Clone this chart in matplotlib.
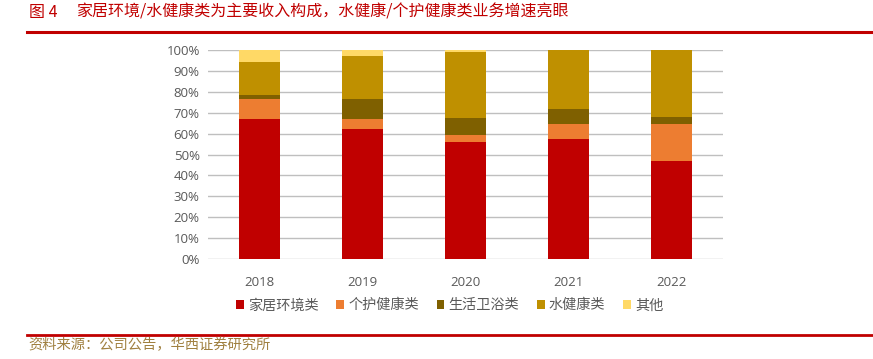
import numpy as np
import matplotlib.pyplot as plt
from matplotlib.patches import Patch

plt.rcParams['font.family'] = ['Open Sans', 'Noto Sans CJK SC', 'DejaVu Sans']

# dane (udzial w przychodach, %)
years = ['2018', '2019', '2020', '2021', '2022']
categories = ['家居环境类', '个护健康类', '生活卫浴类', '水健康类', '其他']
home_env = [66.8, 62.1, 55.9, 57.6, 46.9]
personal_care = [9.6, 5.0, 3.3, 7.2, 17.5]
bath = [2.3, 9.5, 8.4, 6.8, 3.5]
water = [15.4, 20.7, 31.4, 28.2, 31.9]
other = [5.9, 2.7, 1.0, 0.2, 0.2]
colors = ['#C00000', '#ED7D31', '#7F6000', '#BF9000', '#FFD966']

title_num = '图 4'
title = '家居环境/水健康类为主要收入构成，水健康/个护健康类业务增速亮眼'
source = '资料来源：公司公告，华西证券研究所'

fig = plt.figure(figsize=(8.73, 3.59), dpi=100)
ax = fig.add_axes([0.2383, 0.2786, 0.590, 0.582])

series = [home_env, personal_care, bath, water, other]
x = np.arange(len(years))
bottom = np.zeros(len(years))
for vals, c in zip(series, colors):
    v = np.array(vals) / 100
    ax.bar(x, v, width=0.4, bottom=bottom, color=c, zorder=3)
    bottom += v

ax.set_xlim(-0.5, len(years) - 0.5)
ax.set_ylim(0, 1)
ax.set_yticks(np.arange(0, 1.01, 0.1))
ax.set_yticklabels([f'{int(round(t * 100))}%' for t in np.arange(0, 1.01, 0.1)])
ax.set_xticks(x)
ax.set_xticklabels(years)
ax.tick_params(axis='both', length=0, labelsize=9.5, colors='#595959')
ax.tick_params(axis='x', pad=12)
ax.tick_params(axis='y', pad=6)
ax.grid(axis='y', color='#BFBFBF', linewidth=1.0, zorder=0)
for s in ax.spines.values():
    s.set_visible(False)

# legenda
handles = [Patch(facecolor=c, edgecolor='none') for c in colors]
fig.legend(handles, categories, loc='center', bbox_to_anchor=(0.515, 0.148),
           ncol=5, frameon=False, fontsize=10.2, handlelength=0.55,
           handleheight=0.55, handletextpad=0.3, columnspacing=1.25,
           labelcolor='#595959')

# tytul i stopka
cjk = ['Noto Sans CJK SC', 'DejaVu Sans']
fig.text(29 / 873, 1 - 12 / 359, title_num, color='#C00000', fontsize=11.5,
         va='center', ha='left', family=cjk)
fig.text(76 / 873, 1 - 12 / 359, title, color='#C00000', fontsize=11.5,
         va='center', ha='left', family=cjk)
fig.add_artist(plt.Line2D([27 / 873, 1], [1 - 32 / 359] * 2, color='#C00000',
                          linewidth=2.2, transform=fig.transFigure))
fig.add_artist(plt.Line2D([27 / 873, 1], [1 - 335 / 359] * 2, color='#C00000',
                          linewidth=2.0, transform=fig.transFigure))
fig.text(28 / 873, 1 - 345 / 359, source, color='#A08040', fontsize=10.3,
         va='center', ha='left', family=cjk)

fig.savefig('out.png', dpi=100)
